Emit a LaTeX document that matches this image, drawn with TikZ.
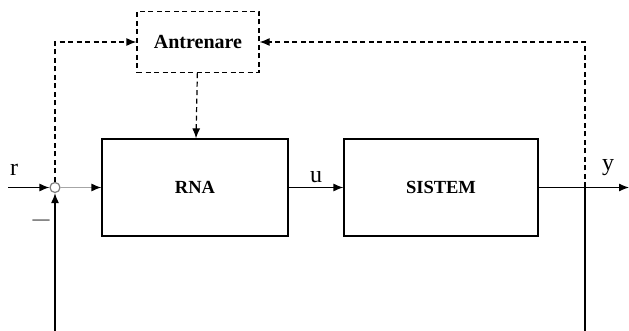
\documentclass[tikz,border=0pt]{standalone}
\usepackage{fontspec}
\setmainfont{Liberation Serif}
\usetikzlibrary{positioning,arrows.meta,calc}
\tikzset{
  blk/.style={draw,line width=1.2pt,minimum width=#1,minimum height=97pt,inner sep=0pt,
    font=\fontsize{18.5}{20}\selectfont\bfseries},
  trainbox/.style={draw,dashed,line width=1.2pt,minimum width=122pt,minimum height=61pt,
    inner sep=0pt,font=\fontsize{20}{22}\selectfont\bfseries},
  sumpt/.style={circle,draw=gray,line width=1.2pt,minimum size=10pt,inner sep=0pt},
  sig/.style={line width=1.2pt,-{Latex[length=10pt,width=8pt,black]}},
  wire/.style={line width=1.2pt},
  lbl/.style={font=\fontsize{24}{26}\selectfont},
  dashed/.style={dash pattern=on 5pt off 3.5pt}
}
\begin{document}
\begin{tikzpicture}[x=1pt,y=-1pt]
  \useasboundingbox (0,0) rectangle (629,331);
  % --- blocks ---
  \node[trainbox] (antr) at (198,42) {Antrenare};
  \node[blk=186pt] (rna) at (195,187.5) {RNA};
  \node[blk=194pt] (sis) at (441,187.5) {SISTEM};
  \node[sumpt] (sum) at (55,187.5) {};
  % --- helper points ---
  \coordinate (in) at (8,187.5);
  \coordinate (out) at (629,187.5);
  \coordinate (fb) at (585,187.5);
  \coordinate (tl) at (55,42);
  \coordinate (tr) at (585,42);
  \coordinate (bl) at (55,331);
  \coordinate (br) at (585,331);
  % --- forward path ---
  \draw[sig] (in) -- (sum);
  \node[lbl] (rlab) at (14,170) {r};
  \draw[sig,gray!70] (sum) -- (rna);
  \draw[sig] (rna) -- node[lbl,above=1pt] (ulab) {u} (sis);
  \draw[sig] (sis) -- (out);
  \node[lbl] (ylab) at (608,168) {y};
  % --- feedback ---
  \draw[wire] (fb) -- (br);
  \draw[sig] (bl) -- (sum);
  \node[font=\fontsize{17}{19}\selectfont] (minus) at (41,222) {---};
  % --- training (dashed) ---
  \draw[sig,dashed] (sum) -- (tl) -- (antr);
  \draw[sig,dashed] (fb) -- (tr) -- (antr);
  \draw[sig,dashed] (antr) -- (rna);
\end{tikzpicture}
\end{document}
